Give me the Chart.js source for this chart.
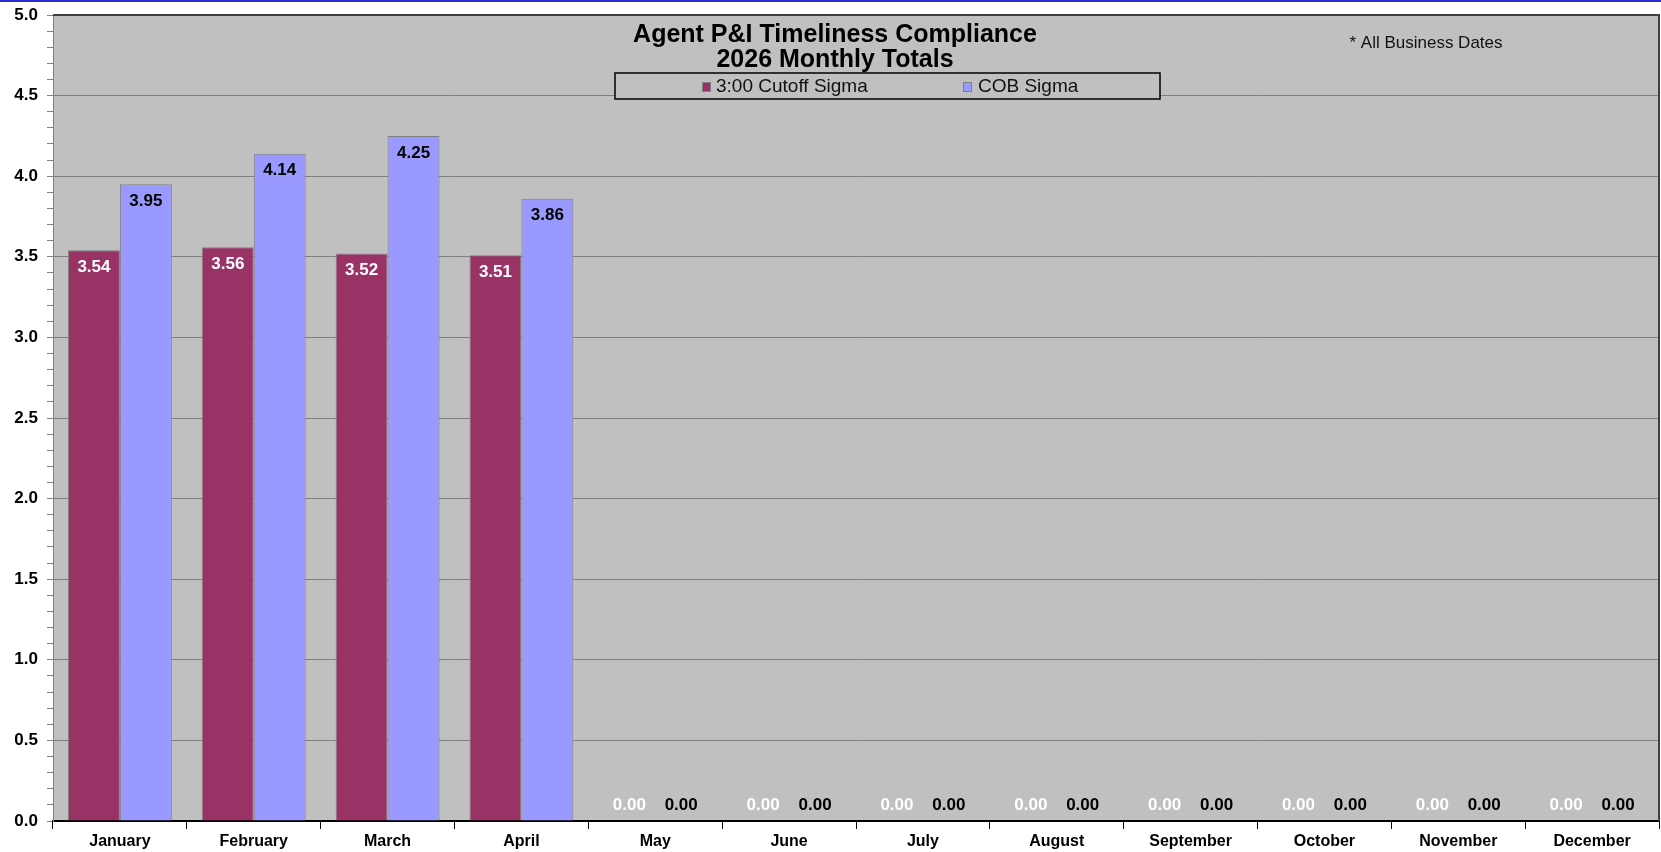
<!DOCTYPE html>
<html>
<head>
<meta charset="utf-8">
<script src="https://cdn.jsdelivr.net/npm/chart.js@4.4.1/dist/chart.umd.min.js"></script>
<style>
  html, body { margin:0; padding:0; background:#fff; }
  #wrap { position:relative; width:1661px; height:852px; }
</style>
</head>
<body>
<div id="wrap"><canvas id="sigma-chart" width="1661" height="852"></canvas></div>
<script>
// data
const months = ['January','February','March','April','May','June','July','August','September','October','November','December'];
const cutoffSigma = [3.54, 3.56, 3.52, 3.51, 0, 0, 0, 0, 0, 0, 0, 0];
const cobSigma    = [3.95, 4.14, 4.25, 3.86, 0, 0, 0, 0, 0, 0, 0, 0];
const seriesNames = ['3:00 Cutoff Sigma', 'COB Sigma'];
const titleLines  = ['Agent P&I Timeliness Compliance', '2026 Monthly Totals'];
const footNote    = '* All Business Dates';

const FONT = '"Liberation Sans", Arial, sans-serif';
const RED = '#993366', BLUE = '#9999ff', PLOT_BG = '#c0c0c0';

const isMajor = v => Math.abs(v * 2 - Math.round(v * 2)) < 1e-6;

const decor = {
  id: 'decor',
  beforeDraw(chart) {
    const { ctx, chartArea: a } = chart;
    ctx.save();
    ctx.fillStyle = PLOT_BG;
    ctx.fillRect(a.left, a.top, a.right - a.left, a.bottom - a.top);
    ctx.restore();
  },
  afterDatasetsDraw(chart) {
    const ctx = chart.ctx;
    ctx.save();
    ctx.font = 'bold 17px ' + FONT;
    ctx.textAlign = 'center';
    ctx.textBaseline = 'middle';
    chart.data.datasets.forEach((ds, i) => {
      const meta = chart.getDatasetMeta(i);
      meta.data.forEach((bar, j) => {
        const v = ds.data[j];
        const y = v > 0 ? bar.y + 17 : bar.y - 16;
        ctx.fillStyle = i === 0 ? '#ffffff' : '#000000';
        ctx.fillText(v.toFixed(2), bar.x, y);
      });
    });
    ctx.restore();
  },
  afterDraw(chart) {
    const { ctx, chartArea: a } = chart;
    ctx.save();
    // frame: top and right edges of the plot
    ctx.strokeStyle = '#404040';
    ctx.lineWidth = 2;
    ctx.beginPath();
    ctx.moveTo(a.left, a.top);
    ctx.lineTo(a.right, a.top);
    ctx.lineTo(a.right, a.bottom);
    ctx.stroke();
    // thin blue line on top of the page
    ctx.fillStyle = '#2b2bd6';
    ctx.fillRect(0, 0, chart.width, 2);

    // title
    ctx.fillStyle = '#000';
    ctx.textAlign = 'center';
    ctx.textBaseline = 'alphabetic';
    ctx.font = 'bold 25px ' + FONT;
    ctx.fillText(titleLines[0], 835, 42);
    ctx.fillText(titleLines[1], 835, 67);

    // note
    ctx.font = '17px ' + FONT;
    ctx.fillStyle = '#111';
    ctx.fillText(footNote, 1426, 48);

    // legend box
    ctx.fillStyle = PLOT_BG;
    ctx.fillRect(615, 73, 545, 26);
    ctx.strokeStyle = '#000';
    ctx.lineWidth = 1.5;
    ctx.strokeRect(615, 73, 545, 26);
    const items = [
      { sx: 702, tx: 716, color: RED },
      { sx: 963, tx: 978, color: BLUE }
    ];
    ctx.font = '19px ' + FONT;
    ctx.textAlign = 'left';
    ctx.textBaseline = 'middle';
    items.forEach((it, i) => {
      ctx.fillStyle = it.color;
      ctx.fillRect(it.sx, 82, 8, 9);
      ctx.strokeStyle = '#808080';
      ctx.lineWidth = 1;
      ctx.strokeRect(it.sx + 0.5, 82.5, 8, 9);
      ctx.fillStyle = '#111';
      ctx.fillText(seriesNames[i], it.tx, 87);
    });
    ctx.restore();
  }
};

new Chart(document.getElementById('sigma-chart'), {
  type: 'bar',
  data: {
    labels: months,
    datasets: [
      { label: seriesNames[0], data: cutoffSigma, backgroundColor: RED,  borderColor: '#808080', borderWidth: 1 },
      { label: seriesNames[1], data: cobSigma,    backgroundColor: BLUE, borderColor: '#808080', borderWidth: 1 }
    ]
  },
  options: {
    responsive: false,
    animation: false,
    categoryPercentage: 0.776,
    barPercentage: 1,
    layout: { padding: { top: 15, right: 2, left: 0, bottom: 0 } },
    plugins: { legend: { display: false }, tooltip: { enabled: false } },
    scales: {
      x: {
        afterFit: s => { s.height = 31; s.paddingLeft = 0; s.paddingRight = 0; },
        grid: { offset: true, drawOnChartArea: false, drawTicks: true, tickLength: 8, color: '#000' },
        border: { color: '#000', width: 2 },
        ticks: { color: '#000', font: { family: FONT, size: 16, weight: 'bold' }, padding: 3, autoSkip: false, maxRotation: 0 }
      },
      y: {
        min: 0, max: 5,
        afterFit: s => { s.width = 53; s.paddingTop = 0; s.paddingBottom = 0; },
        border: { color: '#808080', width: 1 },
        grid: {
          color: c => (c.tick && isMajor(c.tick.value)) ? '#808080' : 'rgba(0,0,0,0)',
          tickColor: '#808080',
          tickLength: 6,
          lineWidth: 1
        },
        ticks: {
          stepSize: 0.1,
          maxTicksLimit: 100,
          autoSkip: false,
          padding: 9,
          color: '#000',
          font: { family: FONT, size: 17, weight: 'bold' },
          callback: v => isMajor(v) ? v.toFixed(1) : ''
        }
      }
    }
  },
  plugins: [decor]
});
</script>
</body>
</html>
